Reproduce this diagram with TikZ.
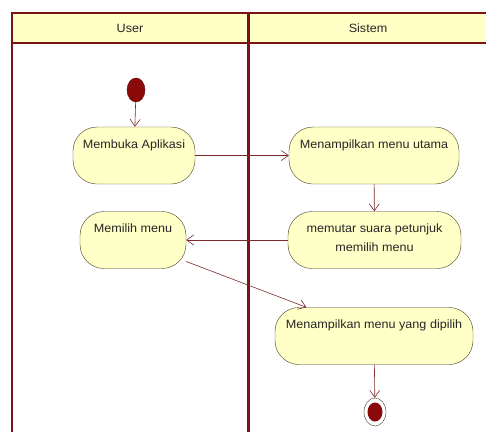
\documentclass[tikz,border=0pt]{standalone}
\usepackage{fontspec}
\setmainfont[FakeStretch=1.05]{Liberation Sans}
\usetikzlibrary{
arrows.meta,
positioning,
shapes.geometric
}
\definecolor{laneline}{HTML}{7A1414}
\definecolor{lanefill}{HTML}{FFFFC6}
\definecolor{actfill}{HTML}{FFFFC8}
\definecolor{actline}{HTML}{4A3A20}
\definecolor{dotred}{HTML}{8A0A0A}
\definecolor{flowline}{HTML}{7A2A2A}

\begin{document}
\begin{tikzpicture}[
    x=1pt, y=-1pt,
    >={Straight Barb[length=7pt,width=10pt]},
    every node/.style={font=\fontsize{12}{19}\selectfont, text=black!85},
    act/.style={draw=actline, fill=actfill, rounded corners=24pt,
      minimum height=57pt, text height=17pt, text depth=32pt,
      inner ysep=4pt, align=center},
    flow/.style={->, draw=flowline, semithick}]
  \useasboundingbox (0,0) rectangle (486,432);
  % swimlanes
  \fill[lanefill] (12,13) rectangle (486,43);
  \draw[laneline, line width=1.6pt] (486,13) -- (12,13) -- (12,432);
  \draw[laneline, line width=1.4pt] (12,43) -- (486,43);
  \draw[laneline, line width=3pt] (248,13) -- (248,432);
  \node (user) at (130,28) {User};
  \node (sistem) at (368,28) {Sistem};
  % activities
  \node[ellipse, fill=dotred, draw=dotred!70!black, minimum width=18pt,
    minimum height=24pt, inner sep=0pt] (start) at (136,90) {};
  \node[act, minimum width=122pt] (buka) at (134,155.5) {Membuka Aplikasi};
  \node[act, minimum width=170pt] (utama) at (374,155.5) {Menampilkan menu utama};
  \node[act, minimum width=173pt, text height=36pt, text depth=13pt]
    (suara) at (374.5,240) {memutar suara petunjuk\\memilih menu};
  \node[act, minimum width=106pt] (pilih) at (133,240) {Memilih menu};
  \node[act, minimum width=198pt] (dipilih) at (374,336) {Menampilkan menu yang dipilih};
  \node[ellipse, draw=actline, fill=white, minimum width=22pt,
    minimum height=28pt, inner sep=0pt,
    path picture={\fill[dotred] (path picture bounding box.center)
      ellipse (7.5pt and 9.5pt);}] (end) at (375,412) {};
  % flows
  \draw[flow] (start) -- (buka);
  \draw[flow] (buka) -- (utama);
  \draw[flow] (utama) -- (suara);
  \draw[flow] (suara) -- (pilih);
  \draw[flow] (pilih.-22) -- (dipilih.157);
  \draw[flow] (dipilih) -- (end);
\end{tikzpicture}
\end{document}
